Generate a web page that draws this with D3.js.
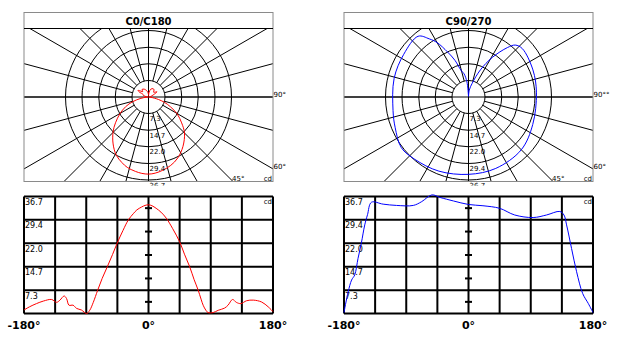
<!DOCTYPE html>
<html><head><meta charset="utf-8">
<script src="https://cdn.jsdelivr.net/npm/d3@7"></script>
<style>body{margin:0;background:#fff}svg{display:block}text{font-family:"DejaVu Sans",Verdana,sans-serif}</style>
</head><body>
<svg id="c" width="635" height="339"></svg>
<script>
// ---- data ----
const titles = ["C0/C180", "C90/270"];
const colors = ["#ff0000", "#0000ff"];
const valueTicks = [7.3, 14.7, 22.0, 29.4, 36.7];
const xTickLabels = ["-180°", "0°", "180°"];
const xTickValues = [-180, 0, 180];
const polarAngleLabels = [["90°", "60°", "45°"], ["90°°", "60°", "45°"]];
const unitLabel = "cd";

const redAngles = [-180, -172, -162, -152, -140, -133, -128, -122, -118.5, -115, -109, -104, -97, -89.5, -85, -80, -73.5, -67, -59.5, -52, -45.4, -37, -29, -22, -16.8, -10, -5, 0, 5, 11, 18, 25.7, 35, 45, 52, 59.5, 66, 71.7, 76, 79, 83, 86, 93.5, 100.7, 110, 115, 121.5, 127, 133.5, 141.8, 151.5, 163.6, 173, 180];
const redValues = [1.1, 2.1, 3.1, 3.9, 4.4, 3.5, 4.2, 5.5, 4.7, 2.6, 2.6, 1.6, 1.1, 0.0, 1.0, 3.4, 7.3, 11.0, 14.7, 18.5, 22.0, 26.0, 29.4, 31.3, 32.5, 33.4, 33.9, 34.1, 33.8, 33.0, 31.8, 29.9, 26.6, 22.5, 18.6, 14.7, 10.6, 7.4, 4.5, 2.6, 1.0, 0.3, 0.3, 1.0, 1.7, 2.6, 4.4, 3.5, 3.1, 4.0, 4.2, 3.6, 2.1, 0.6];

const blueAngles = [-180, -174, -169, -164.5, -159.7, -155, -150, -146, -140.3, -123.4, -104, -79.8, -67.6, -53, -41, -21.8, 0, 20.9, 45, 66.8, 93.5, 112.8, 132, 138, 141.8, 149, 156.3, 165, 173.3, 180];
const blueValues = [0.3, 6.8, 10.5, 12.1, 17.3, 22.0, 27.8, 31.0, 34.9, 34.3, 33.9, 33.9, 35.1, 37.2, 36.4, 35.3, 34.2, 33.8, 33.0, 30.9, 30.1, 30.9, 32.0, 30.9, 27.8, 20.4, 13.1, 6.3, 3.1, 0.3];

const series = [
  {angles: redAngles, values: redValues},
  {angles: blueAngles, values: blueValues}
];

// ---- layout ----
const svg = d3.select("#c");
const vMax = 36.7;
const panelShift = 320;
const P = {x0: 24, x1: 273, top: 12.5, band: 28.5, bottom: 181.5, cy: 97, rMax: 83};
const L = {x0: 24, x1: 273, top: 196.5, bottom: 313.5};

svg.append("defs").append("clipPath").attr("id", "labclip")
  .append("rect").attr("x", 0).attr("y", 0).attr("width", 635).attr("height", 185.5);

series.forEach((s, i) => {
  const dx = panelShift * i;
  const x0 = P.x0 + dx, x1 = P.x1 + dx, cx = (x0 + x1) / 2, cy = P.cy;
  const r = d3.scaleLinear().domain([0, vMax]).range([0, P.rMax]);
  const g = svg.append("g");

  const cid = "pclip" + i;
  svg.select("defs").append("clipPath").attr("id", cid)
    .append("rect").attr("x", x0).attr("y", P.band).attr("width", x1 - x0).attr("height", P.bottom - P.band);

  const grid = g.append("g").attr("clip-path", `url(#${cid})`);
  // circles
  grid.selectAll("circle").data(valueTicks).join("circle")
    .attr("cx", cx).attr("cy", cy).attr("r", d => r(d))
    .attr("fill", "none").attr("stroke", "#000").attr("stroke-width", 1);
  // spokes every 15 deg starting at inner circle
  const spokeAngles = d3.range(-180, 180, 15);
  grid.selectAll("line.sp").data(spokeAngles).join("line").attr("class", "sp")
    .attr("x1", a => cx + r(valueTicks[0]) * Math.sin(a * Math.PI / 180))
    .attr("y1", a => cy + r(valueTicks[0]) * Math.cos(a * Math.PI / 180))
    .attr("x2", a => cx + 400 * Math.sin(a * Math.PI / 180))
    .attr("y2", a => cy + 400 * Math.cos(a * Math.PI / 180))
    .attr("stroke", "#000").attr("stroke-width", 1);
  // full horizontal and vertical through centre
  grid.append("line").attr("x1", x0).attr("x2", x1).attr("y1", cy).attr("y2", cy).attr("stroke", "#000");
  grid.append("line").attr("x1", cx).attr("x2", cx).attr("y1", P.band).attr("y2", P.bottom).attr("stroke", "#000");

  // polar curve
  const radial = d3.lineRadial()
    .angle((d, k) => Math.PI - s.angles[k] * Math.PI / 180)
    .radius(d => r(d))
    .curve(d3.curveCatmullRom);
  grid.append("path").datum(s.values)
    .attr("transform", `translate(${cx},${cy})`)
    .attr("d", radial).attr("fill", "none").attr("stroke", colors[i]).attr("stroke-width", 1);

  // box
  g.append("rect").attr("x", x0).attr("y", P.top).attr("width", x1 - x0).attr("height", P.bottom - P.top)
    .attr("fill", "none").attr("stroke", "#8a8a8a").attr("stroke-width", 1);
  g.append("line").attr("x1", x0).attr("x2", x1).attr("y1", P.band).attr("y2", P.band).attr("stroke", "#000");
  g.append("text").attr("x", cx).attr("y", 24.5).attr("text-anchor", "middle")
    .attr("font-size", 10).attr("font-weight", "bold").text(titles[i]);

  // ring labels
  g.append("g").attr("clip-path", "url(#labclip)").selectAll("text").data(valueTicks).join("text")
    .attr("x", cx + 1).attr("y", d => cy + r(d) + 7.5)
    .attr("font-size", 7).text(d => d.toFixed(1));

  // angle labels
  const al = polarAngleLabels[i];
  const y60 = cy + (x1 - cx) * Math.tan(30 * Math.PI / 180);
  g.append("text").attr("x", x1 + 0.5).attr("y", cy - 0.5).attr("font-size", 7).text(al[0]);
  g.append("text").attr("x", x1 + 0.5).attr("y", y60 + 0.5).attr("font-size", 7).text(al[1]);
  g.append("text").attr("x", cx + (P.bottom - cy) - 1).attr("y", P.bottom - 0.5).attr("font-size", 7).text(al[2]);
  g.append("text").attr("x", x1 - 1).attr("y", P.bottom - 0.5).attr("text-anchor", "end").attr("font-size", 7).text(unitLabel);

  // ---- linear chart ----
  const lx0 = L.x0 + dx, lx1 = L.x1 + dx;
  const x = d3.scaleLinear().domain([-180, 180]).range([lx0, lx1]);
  const y = d3.scaleLinear().domain([0, vMax]).range([L.bottom, L.top]);
  const lg = svg.append("g");
  const vlines = d3.range(-180, 181, 45);
  lg.selectAll("line.v").data(vlines).join("line").attr("class", "v")
    .attr("x1", d => x(d)).attr("x2", d => x(d)).attr("y1", L.top).attr("y2", L.bottom)
    .attr("stroke", "#000").attr("stroke-width", 2);
  lg.selectAll("line.h").data([0].concat(valueTicks)).join("line").attr("class", "h")
    .attr("x1", lx0).attr("x2", lx1).attr("y1", d => y(d)).attr("y2", d => y(d))
    .attr("stroke", "#000").attr("stroke-width", 2);
  // centre ticks at mid values
  const mids = [0].concat(valueTicks).slice(0, -1).map((d, k) => (d + valueTicks[k]) / 2);
  lg.selectAll("line.t").data(mids).join("line").attr("class", "t")
    .attr("x1", x(0) - 3.5).attr("x2", x(0) + 3.5).attr("y1", d => y(d)).attr("y2", d => y(d))
    .attr("stroke", "#000").attr("stroke-width", 2);
  lg.selectAll("text.yl").data(valueTicks).join("text").attr("class", "yl")
    .attr("x", lx0 + 1).attr("y", d => y(d) + 8.5).attr("font-size", 8).text(d => d.toFixed(1));
  lg.append("text").attr("x", lx1 - 1).attr("y", L.top + 7.5).attr("text-anchor", "end").attr("font-size", 7).text(unitLabel);
  lg.selectAll("text.xl").data(xTickValues).join("text").attr("class", "xl")
    .attr("x", d => x(d)).attr("y", 329).attr("text-anchor", "middle")
    .attr("font-size", 11).attr("font-weight", "bold").text((d, k) => xTickLabels[k]);
  const line = d3.line().x((d, k) => x(s.angles[k])).y(d => y(d)).curve(d3.curveCatmullRom);
  lg.append("path").datum(s.values).attr("d", line)
    .attr("fill", "none").attr("stroke", colors[i]).attr("stroke-width", 1);
});
</script>
</body></html>
